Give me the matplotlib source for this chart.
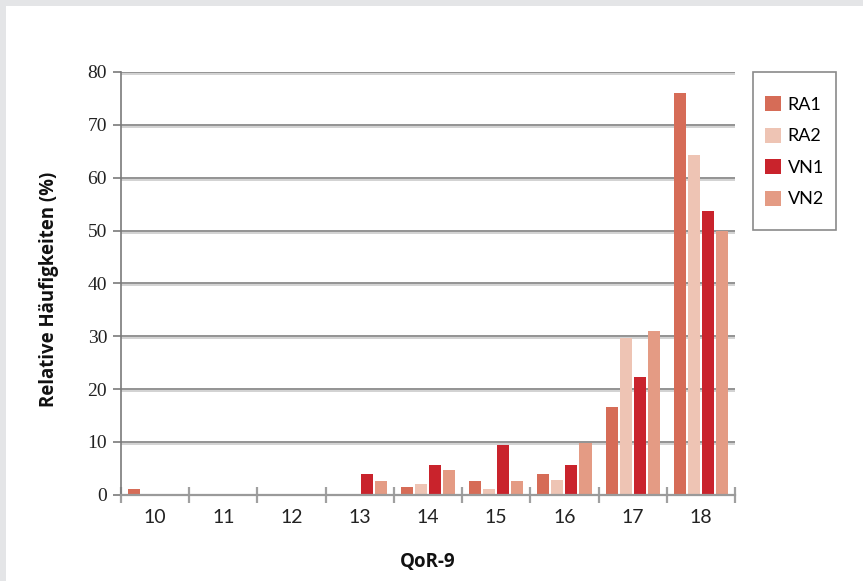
import matplotlib
matplotlib.use("Agg")
import matplotlib.pyplot as plt
import matplotlib.patheffects as pe
from matplotlib.patches import Rectangle
import numpy as np

# QoR-9 score categories and relative frequencies (%) per group
categories = ["10", "11", "12", "13", "14", "15", "16", "17", "18"]
series_names = ["RA1", "RA2", "VN1", "VN2"]
ra1 = [1.0, 0, 0, 0, 1.5, 2.6, 3.9, 16.6, 76.1]
ra2 = [0, 0, 0, 0, 2.1, 1.1, 2.8, 29.6, 64.2]
vn1 = [0, 0, 0, 3.9, 5.6, 9.4, 5.6, 22.3, 53.6]
vn2 = [0, 0, 0, 2.6, 4.7, 2.6, 9.8, 30.9, 50.0]
y_ticks = [0, 10, 20, 30, 40, 50, 60, 70, 80]

colors = ["#D66C57", "#EEC4B4", "#C9232C", "#E49B84"]

W, H = 863, 581
fig = plt.figure(figsize=(W / 100, H / 100), dpi=100)
fig.patch.set_facecolor("white")


def fx(px):
    return px / W


def fy(py):
    return 1 - py / H


# light grey frame along the top and left edges
fig.patches.append(Rectangle((0, 0), fx(6), 1, transform=fig.transFigure,
                             facecolor="#E4E5E7", edgecolor="none", zorder=0))
fig.patches.append(Rectangle((0, fy(6)), 1, 6 / H, transform=fig.transFigure,
                             facecolor="#E4E5E7", edgecolor="none", zorder=0))

left, right, top, bottom = 121, 735, 72, 494.7
ax = fig.add_axes([fx(left), fy(bottom), (right - left) / W, (bottom - top) / H])

x = np.arange(len(categories))
step = 14 / 68
width = 12 / 68
data = [ra1, ra2, vn1, vn2]
for i, (vals, name, c) in enumerate(zip(data, series_names, colors)):
    ax.bar(x + (i - 1.5) * step, vals, width=width, color=c, label=name,
           zorder=3, linewidth=0)

ax.set_xlim(-0.5, len(categories) - 0.5)
ax.set_ylim(0, 80)

# horizontal gridlines with a soft shadow underneath
for yv in y_ticks[1:]:
    ax.axhline(yv, color="#8a8a8a", lw=1.3, zorder=1,
               path_effects=[pe.SimpleLineShadow(offset=(0, -1.5), shadow_color="#cfcfcf", alpha=1),
                             pe.Normal()])

for s in ["top", "right"]:
    ax.spines[s].set_visible(False)
ax.spines["left"].set_color("#7a7a7a")
ax.spines["left"].set_linewidth(1.2)
ax.spines["bottom"].set_color("#9a9a9a")
ax.spines["bottom"].set_linewidth(1.6)
ax.spines["bottom"].set_zorder(4)

ax.set_yticks(y_ticks)
ax.set_yticklabels([str(v) for v in y_ticks], fontfamily="Liberation Serif", fontsize=14,
                   color="#222222")
ax.tick_params(axis="y", direction="out", length=6, width=1.2, color="#7a7a7a", pad=4)

# category boundaries as major ticks, labels centred via minor ticks
ax.set_xticks(np.arange(-0.5, len(categories), 1.0))
ax.set_xticklabels([])
ax.tick_params(axis="x", which="major", direction="inout", length=11, width=1.6,
               color="#a0a0a0")
ax.set_xticks(x, minor=True)
ax.set_xticklabels(categories, minor=True, fontfamily="Lato", fontsize=14, color="#222222")
ax.tick_params(axis="x", which="minor", length=0, pad=10)

fig.text(fx(49), fy(289), "Relative Häufigkeiten (%)", rotation=90, ha="center", va="center",
         fontfamily="Open Sans", fontweight="bold", fontsize=13.4, color="#111111")
fig.text(fx(427.5), fy(561.5), "QoR-9", ha="center", va="center",
         fontfamily="Open Sans", fontweight="bold", fontsize=13.5, color="#111111")

# legend box drawn separately so its padding can differ per side
ax.add_patch(Rectangle((fx(752.7), fy(230)), (836 - 752.7) / W, (230 - 71.7) / H,
                       transform=fig.transFigure, facecolor="white", clip_on=False,
                       edgecolor="#8a8a8a", linewidth=1.2, zorder=5))
leg = ax.legend(loc="upper left", bbox_to_anchor=(fx(765), fy(96)),
                bbox_transform=fig.transFigure, frameon=False,
                prop={"family": "Lato", "size": 13}, handlelength=0.9, handleheight=0.9,
                handletextpad=0.35, labelspacing=0.82, borderpad=0, borderaxespad=0)
leg.set_zorder(6)

fig.savefig("out.png", dpi=100)
